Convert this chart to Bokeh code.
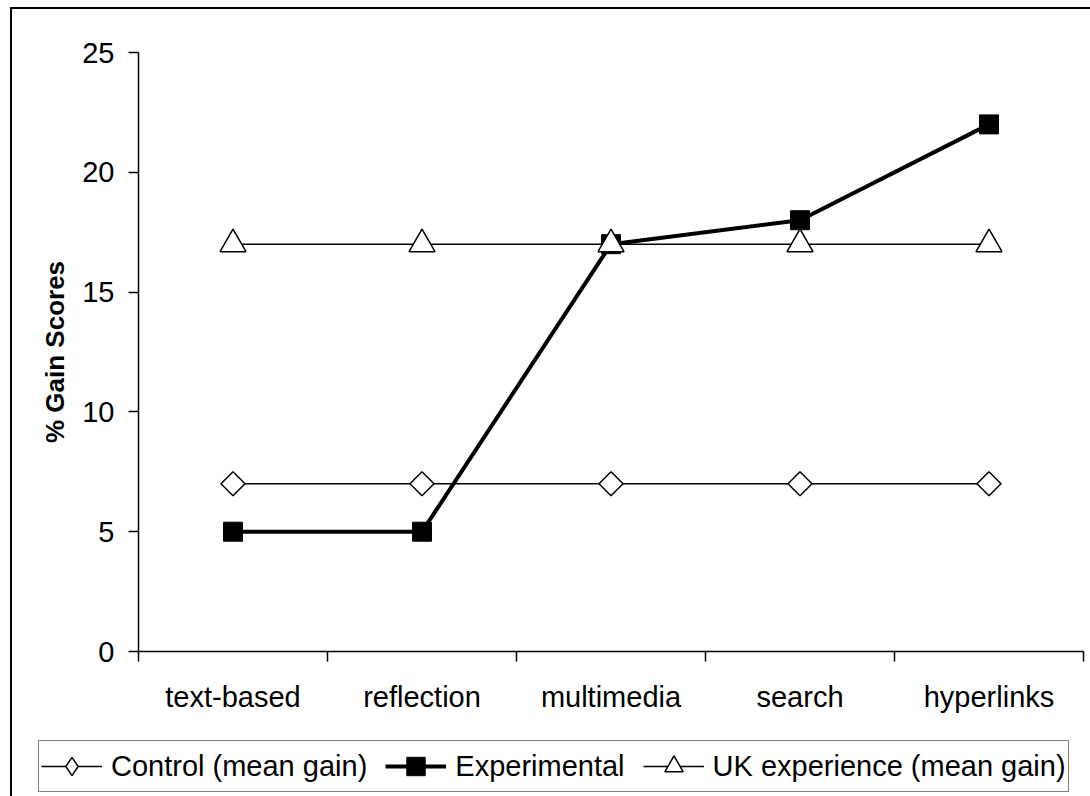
import math
from bokeh.plotting import figure
from bokeh.layouts import column, row
from bokeh.models import FixedTicker, Legend, LegendItem, Range1d
from bokeh.embed import file_html
from bokeh.resources import INLINE

categories = ["text-based", "reflection", "multimedia", "search", "hyperlinks"]
control = [7, 7, 7, 7, 7]
experimental = [5, 5, 17, 18, 22]
uk_experience = [17, 17, 17, 17, 17]
y_ticks = [0, 5, 10, 15, 20, 25]
series_names = ["Control (mean gain)", "Experimental", "UK experience (mean gain)"]

FONT = "Liberation Sans"
FS = "29px"
n = len(categories)
xs = [i + 0.5 for i in range(n)]

W = 1078
p = figure(width=W, height=726, output_backend="svg", toolbar_location=None,
           x_range=Range1d(0, n), y_range=Range1d(y_ticks[0], y_ticks[-1]),
           min_border_left=126, min_border_top=43, min_border_bottom=84,
           min_border_right=7)
p.outline_line_color = None
p.xgrid.visible = False
p.ygrid.visible = False
p.background_fill_color = "white"
p.border_fill_color = "white"

# x axis: labels at category centres, tick marks between categories
p.xaxis.ticker = FixedTicker(ticks=xs, minor_ticks=list(range(n + 1)))
p.xaxis.major_label_overrides = {x: c for x, c in zip(xs, categories)}
p.xaxis.major_tick_line_color = None
p.xaxis.minor_tick_line_color = "black"
p.xaxis.minor_tick_line_width = 1.5
p.xaxis.minor_tick_out = 10
p.xaxis.minor_tick_in = 0
p.xaxis.major_label_standoff = 19

p.yaxis.ticker = FixedTicker(ticks=y_ticks)
p.yaxis.minor_tick_line_color = None
p.yaxis.major_tick_out = 10
p.yaxis.major_tick_in = 0
p.yaxis.major_label_standoff = 14
p.yaxis.axis_label = "% Gain Scores"
p.yaxis.axis_label_text_font = FONT
p.yaxis.axis_label_text_font_size = "26px"
p.yaxis.axis_label_text_font_style = "bold"
p.yaxis.axis_label_text_color = "black"
p.yaxis.axis_label_standoff = 9

for ax in (p.xaxis, p.yaxis):
    ax.axis_line_color = "black"
    ax.axis_line_width = 1.5
    ax.major_tick_line_width = 1.5
    ax.major_label_text_font = FONT
    ax.major_label_text_font_size = FS
    ax.major_label_text_color = "black"

# series
styles = [
    dict(marker="square", size=17, angle=math.pi / 4, fill_color="white", lw=1.5, mlw=1.5,
         legend_marker="diamond"),
    dict(marker="square", size=19, angle=0.0, fill_color="black", lw=4, mlw=1,
         legend_marker="square"),
    dict(marker="triangle", size=26, angle=0.0, fill_color="white", lw=1.5, mlw=1.5,
         legend_marker="triangle"),
]
series = [control, experimental, uk_experience]
for ys, st in zip(series, styles):
    p.line(xs, ys, line_color="black", line_width=st["lw"])
    p.scatter(xs, ys, marker=st["marker"], size=st["size"], angle=st["angle"],
              fill_color=st["fill_color"], line_color="black", line_width=st["mlw"])

# legend strip (separate figure below the chart, inside the same outer box)
LH = 61
q = figure(width=W, height=LH, output_backend="svg", toolbar_location=None,
           x_range=Range1d(0, 1), y_range=Range1d(0, 1),
           x_axis_type=None, y_axis_type=None,
           min_border_left=0, min_border_right=0, min_border_top=0, min_border_bottom=0)
q.outline_line_color = None
q.xgrid.visible = False
q.ygrid.visible = False
q.background_fill_color = "white"
q.border_fill_color = "white"

nan = float("nan")
items = []
for name, st in zip(series_names, styles):
    lr = q.line([nan], [nan], line_color="black", line_width=st["lw"])
    sr = q.scatter([nan], [nan], marker=st["legend_marker"], size=st["size"],
                   fill_color=st["fill_color"], line_color="black", line_width=st["mlw"])
    items.append(LegendItem(label=name, renderers=[lr, sr]))

legend = Legend(items=items, orientation="horizontal", location=(26, 4))
legend.glyph_width = 61
legend.glyph_height = 46
legend.label_standoff = 9
legend.spacing = 18
legend.padding = 2
legend.margin = 0
legend.border_line_color = "black"
legend.border_line_width = 1.5
legend.background_fill_color = "white"
legend.background_fill_alpha = 1
legend.label_text_font = FONT
legend.label_text_font_size = FS
legend.label_text_color = "black"
q.add_layout(legend, "center")

layout = column(p, row(q, spacing=0), spacing=0)
layout.styles = {"margin-left": "10px", "margin-top": "7px",
                 "border-left": "2px solid black", "border-top": "2px solid black"}

open("out.html", "w").write(file_html(layout, INLINE))
